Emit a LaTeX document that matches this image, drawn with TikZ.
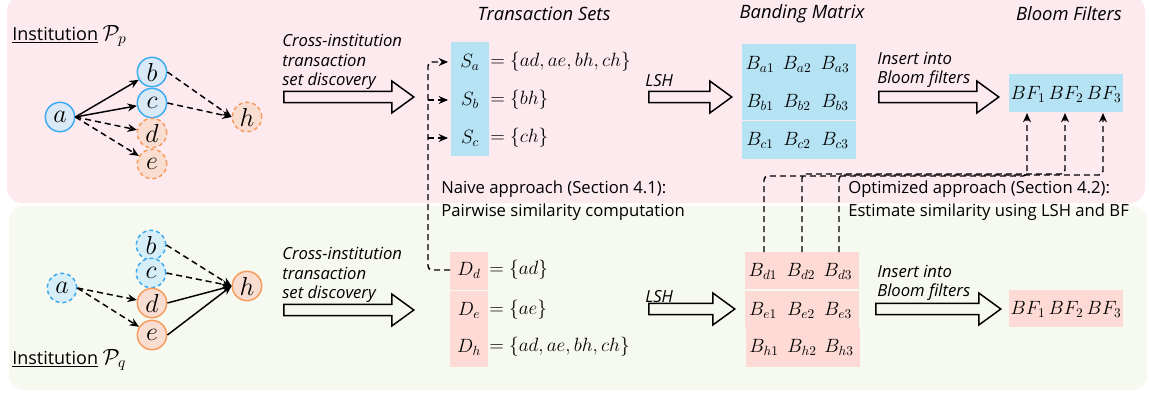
\documentclass[tikz,border=0pt]{standalone}
\usepackage{fix-cm}
\usepackage{fontspec}
\setmainfont{Open Sans}
\usetikzlibrary{shapes.arrows,arrows.meta}
\definecolor{pinkbg}{HTML}{FCEAEE}
\definecolor{greenbg}{HTML}{F6F9F0}
\definecolor{bluebox}{HTML}{B5E3F3}
\definecolor{pinkbox}{HTML}{FDDAD3}
\definecolor{bfill}{HTML}{D9E9F5}
\definecolor{bfilltwo}{HTML}{D6EEF7}
\definecolor{bline}{HTML}{3CAAF0}
\definecolor{oline}{HTML}{F79B5B}
\definecolor{ofill}{HTML}{FADDD1}
\begin{document}
\begin{tikzpicture}[x=0.75pt,y=-0.75pt,
  every node/.style={inner sep=0pt},
  vtx/.style={circle, minimum size=22pt, line width=1.1pt, font=\fontsize{19.5}{21}\selectfont},
  bsolid/.style={vtx, draw=bline, fill=bfill},
  bdash/.style={vtx, draw=bline, fill=bfilltwo, dash pattern=on 3pt off 2.2pt},
  osolid/.style={vtx, draw=oline, fill=ofill},
  odash/.style={vtx, draw=oline, fill=ofill, dash pattern=on 3pt off 2.2pt},
  arr/.style={line width=1.1pt, -{Stealth[length=7pt,width=6pt]}},
  darr/.style={arr, dash pattern=on 4.5pt off 3pt},
  harrow/.style={single arrow, draw, line width=1.1pt, inner sep=0pt, text height=3.6pt, text depth=3.6pt, text width=0pt, single arrow head extend=7.8pt, single arrow tip angle=72},
  lbl/.style={anchor=west, align=left, font=\fontsize{12.5}{14.8}\selectfont\itshape},
  ttl/.style={font=\fontsize{13.8}{16}\selectfont\itshape},
  note/.style={anchor=west, align=left, font=\fontsize{12.5}{17.25}\selectfont},
  inst/.style={anchor=west, font=\fontsize{13.5}{16}\selectfont},
  mth/.style={font=\fontsize{14.4}{16}\selectfont},
]
\useasboundingbox (0,0) rectangle (1149,393);
% panels
\fill[pinkbg, rounded corners=11pt] (7,-4) rectangle (1145,203);
\fill[greenbg, rounded corners=11pt] (9,206) rectangle (1147,390);

% ---------- top graph ----------
\node[inst] (instp) at (12,36) {\underline{Institution} {\fontsize{16.5}{18}\selectfont$\mathcal{P}_p$}};
\node[bsolid] (a1) at (60,117) {$a$};
\node[bsolid] (b1) at (152,72) {$b$};
\node[bsolid] (c1) at (152,103) {$c$};
\node[odash] (d1) at (152,133) {$d$};
\node[odash] (e1) at (152,164) {$e$};
\node[odash] (h1) at (247,117) {$h$};
\draw[arr] (a1.east) -- (b1);
\draw[arr] (a1.east) -- (c1);
\draw[darr] (a1.east) -- (d1);
\draw[darr] (a1.east) -- (e1);
\draw[darr] (b1.east) -- (h1.west);
\draw[darr] (c1.east) -- (h1.west);

% ---------- bottom graph ----------
\node[inst] (instq) at (12,360) {\underline{Institution} {\fontsize{16.5}{18}\selectfont$\mathcal{P}_q$}};
\node[bdash] (a2) at (62,288) {$a$};
\node[bdash] (b2) at (151,245) {$b$};
\node[bdash] (c2) at (151,273) {$c$};
\node[osolid] (d2) at (152,303) {$d$};
\node[osolid] (e2) at (152,335) {$e$};
\node[osolid] (h2) at (247,286) {$h$};
\draw[darr] (a2.east) -- (d2);
\draw[darr] (a2.east) -- (e2);
\draw[darr] (b2.east) -- (h2.west);
\draw[darr] (c2.east) -- (h2.west);
\draw[arr] (d2.east) -- (h2.west);
\draw[arr] (e2.east) -- (h2.west);

% ---------- hollow arrows ----------
\node[harrow, minimum height=97.5pt] (x1) at (345,97) {};
\node[lbl] (x1l) at (282,62) {Cross-institution\\transaction\\set discovery};
\node[harrow, minimum height=97.5pt] (x2) at (345,310) {};
\node[lbl] (x2l) at (282,275) {Cross-institution\\transaction\\set discovery};
\node[harrow, minimum height=62.25pt] (l1) at (686.5,97) {};
\node[lbl] (l1l) at (645,81) {LSH};
\node[harrow, minimum height=64.5pt] (l2) at (688,309) {};
\node[lbl] (l2l) at (645,297) {LSH};
\node[harrow, minimum height=90pt] (i1) at (935,97) {};
\node[lbl] (i1l) at (877,70) {Insert into\\Bloom filters};
\node[harrow, minimum height=93.75pt] (i2) at (934.5,309) {};
\node[lbl] (i2l) at (877,283) {Insert into\\Bloom filters};

% ---------- titles ----------
\node[ttl] (t1) at (544,14) {Transaction Sets};
\node[ttl] (t2) at (802,14) {Banding Matrix};
\node[ttl] (t3) at (1069,14) {Bloom Filters};

% ---------- transaction sets ----------
\fill[bluebox] (451,42) rectangle (489,156);
\node[mth] (Sa) at (470,62) {$S_a$};
\node[mth] (Sb) at (470,100) {$S_b$};
\node[mth] (Sc) at (470,138) {$S_c$};
\node[mth, anchor=west] (Sae) at (490,62) {$=\{ad,ae,bh,ch\}$};
\node[mth, anchor=west] (Sbe) at (490,100) {$=\{bh\}$};
\node[mth, anchor=west] (Sce) at (490,138) {$=\{ch\}$};

\fill[pinkbox] (450,252) rectangle (488,290);
\fill[pinkbox] (450,291) rectangle (488,367);
\node[mth] (Dd) at (469,270) {$D_d$};
\node[mth] (De) at (469,310) {$D_e$};
\node[mth] (Dh) at (469,347) {$D_h$};
\node[mth, anchor=west] (Dde) at (489,270) {$=\{ad\}$};
\node[mth, anchor=west] (Dee) at (489,310) {$=\{ae\}$};
\node[mth, anchor=west] (Dhe) at (489,347) {$=\{ad,ae,bh,ch\}$};

% naive connector
\coordinate (dstart) at (450,270);
\coordinate (jtop) at (428,62);
\coordinate (jb) at (428,100);
\coordinate (jc) at (428,138);
\coordinate (sa) at (448,62);
\coordinate (sb) at (448,100);
\coordinate (sc) at (448,138);
\draw[darr, rounded corners=3pt] (dstart) -| (jtop) -- (sa);
\draw[darr] (jb) -- (sb);
\draw[darr] (jc) -- (sc);
\node[note] (naive) at (441,201) {Naive approach (Section 4.1):\\Pairwise similarity computation};

% ---------- banding matrices ----------
\fill[bluebox] (742,44) rectangle (856,120);
\fill[bluebox] (742,121) rectangle (856,159);
\foreach \r/\y in {a/64,b/102,c/140}{
  \foreach \k/\x in {1/760,2/797,3/835}{
    \node[mth] (B\r\k) at (\x,\y) {$B_{\r\k}$};
  }
}
\fill[pinkbox] (745,252) rectangle (859,289);
\fill[pinkbox] (745,291) rectangle (859,328);
\fill[pinkbox] (746,328) rectangle (860,367);
\foreach \r/\y/\dx in {d/271/0,e/310/0,h/347/1}{
  \foreach \k/\x in {1/763,2/801,3/838}{
    \node[mth] (B\r\k) at (\x+\dx,\y) {$B_{\r\k}$};
  }
}

% ---------- bloom filters ----------
\fill[bluebox] (1009,74) rectangle (1123,112);
\node[mth] (BFa1) at (1028,94) {$BF_1$};
\node[mth] (BFa2) at (1066,94) {$BF_2$};
\node[mth] (BFa3) at (1104,94) {$BF_3$};
\fill[pinkbox] (1009,290) rectangle (1123,327);
\node[mth] (BFb1) at (1028,309) {$BF_1$};
\node[mth] (BFb2) at (1066,309) {$BF_2$};
\node[mth] (BFb3) at (1104,309) {$BF_3$};

% optimized connectors
\coordinate (p1) at (764,252);
\coordinate (p2) at (802,252);
\coordinate (p3) at (839,252);
\coordinate (m1) at (1027,176);
\coordinate (m2) at (1065,174);
\coordinate (m3) at (1103,175);
\coordinate (q1) at (1027,113);
\coordinate (q2) at (1065,113);
\coordinate (q3) at (1103,113);
\draw[darr, rounded corners=3pt] (p1) |- (m1) -- (q1);
\draw[darr, rounded corners=3pt] (p2) |- (m2) -- (q2);
\draw[darr, rounded corners=3pt] (p3) |- (m3) -- (q3);
\node[note] (opt) at (848,201) {Optimized approach (Section 4.2):\\Estimate similarity using LSH and BF};
\end{tikzpicture}
\end{document}
